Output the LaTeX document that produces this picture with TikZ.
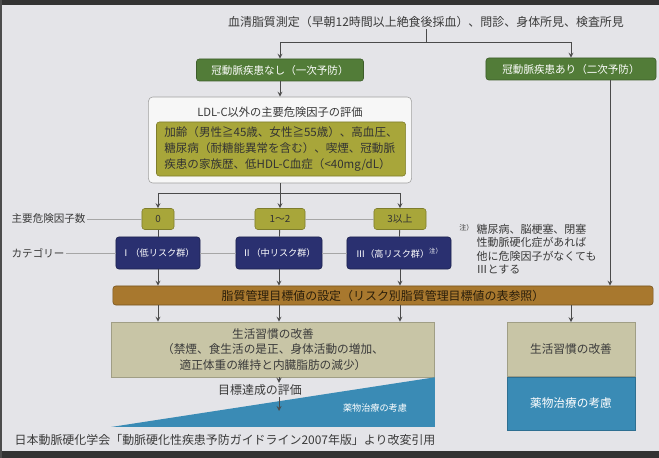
\documentclass[tikz,border=0pt]{standalone}
\usepackage{fontspec}
\setmainfont{Noto Sans CJK JP}
\usepackage{tikz}
\usetikzlibrary{positioning}

\definecolor{slidebg}{HTML}{E4E4E8}
\definecolor{textgray}{HTML}{3A3A3A}
\definecolor{linkgray}{HTML}{4A4A4A}
\definecolor{cadgreen}{HTML}{527C38}
\definecolor{riskolive}{HTML}{A8A63A}
\definecolor{catnavy}{HTML}{2A3070}
\definecolor{goalbrown}{HTML}{A8782E}
\definecolor{lifebeige}{HTML}{C8C5A6}
\definecolor{drugblue}{HTML}{3A8BB5}

\begin{document}
\begin{tikzpicture}[x=0.025cm,y=-0.025cm,>=stealth,
  box/.style={rounded corners=2pt,inner sep=0pt,align=center},
  maintext/.style={font=\fontsize{8.5}{11}\selectfont,text=textgray,inner sep=1pt},
  labeltext/.style={font=\fontsize{7.5}{9}\selectfont,text=textgray,inner sep=1pt},
  greenbox/.style={box,fill=cadgreen,draw=cadgreen!75!black,text=white,minimum height=0.55cm,font=\fontsize{7.5}{9}\selectfont},
  whitebox/.style={box,fill=white!94!gray,draw=gray!75,rounded corners=3pt},
  olivebox/.style={box,fill=riskolive,draw=riskolive!75!black,text=black!80,align=left,font=\fontsize{8.2}{11.3}\selectfont},
  countbox/.style={box,fill=riskolive,draw=riskolive!75!black,text=black!80,minimum height=0.525cm,font=\fontsize{7}{8}\selectfont},
  catbox/.style={box,fill=catnavy,draw=catnavy!70!black,text=white,minimum height=0.8cm,font=\fontsize{6.5}{8}\selectfont},
  brownbar/.style={box,fill=goalbrown,draw=goalbrown!70!black,text=black!75!goalbrown,minimum width=13.5cm,minimum height=0.475cm,font=\fontsize{8.5}{10}\selectfont},
  lifebox/.style={box,rounded corners=0pt,fill=lifebeige,draw=lifebeige!80!black,text=textgray,font=\fontsize{8.3}{11}\selectfont},
  drugbox/.style={box,rounded corners=0pt,fill=drugblue,draw=drugblue!80!black,text=white,font=\fontsize{8.3}{10}\selectfont},
  link/.style={draw=linkgray,line width=0.6pt},
  rowline/.style={draw=gray!70,line width=0.5pt}]

% Slide background and dark frame.
\fill[slidebg] (0,0) rectangle (659,458);
\fill[black!80] (0,0) rectangle (659,5);
\fill[black!80] (0,451) rectangle (659,458);
\fill[black!70] (0,0) rectangle (2,458);

% Screening, then primary / secondary prevention.
\node[maintext] (screening) at (426,22) {血清脂質測定（早朝12時間以上絶食後採血）、問診、身体所見、検査所見};
\coordinate (split) at (426,42);
\node[greenbox,minimum width=4.175cm] (primary) at (280,70) {冠動脈疾患なし（一次予防）};
\node[greenbox,minimum width=4.25cm] (secondary) at (571,69) {冠動脈疾患あり（二次予防）};
\draw[link] (screening.south) -- (split);
\draw[link,->] (split) -| (primary);
\draw[link,->] (split) -| (secondary);

% Evaluation of the main risk factors.
\node[whitebox,minimum width=6.575cm,minimum height=2.15cm] (evalbox) at (280,140) {};
\node[maintext,font=\fontsize{8}{10}\selectfont] (evaltitle) at (280,112) {LDL-C以外の主要危険因子の評価};
\node[olivebox,minimum width=6.225cm,minimum height=1.35cm] (riskfactors) at (281,149)
  {加齢（男性≧45歳、女性≧55歳）、高血圧、\\糖尿病（耐糖能異常を含む）、喫煙、冠動脈\\疾患の家族歴、低HDL-C血症（<40mg/dL）};
\draw[link,->] (primary) -- (evalbox);
\coordinate (fork) at (280,193);
\draw[link] (evalbox) -- (fork);

% Number of risk factors and category.
\node[labeltext,anchor=west] (nrflabel) at (10,219) {主要危険因子数};
\node[labeltext,anchor=west] (catlabel) at (10,253) {カテゴリー};
\node[countbox,minimum width=0.8cm] (nrf0) at (158,219) {0};
\node[countbox,minimum width=1.25cm] (nrf12) at (280,219) {1〜2};
\node[countbox,minimum width=1.3cm] (nrf3) at (400,219) {3以上};
\node[catbox,minimum width=2.1cm] (cat1) at (158,253) {Ⅰ（低リスク群）};
\node[catbox,minimum width=2.15cm] (cat2) at (279,253) {Ⅱ（中リスク群）};
\node[catbox,minimum width=2.6cm] (cat3) at (399,253) {Ⅲ（高リスク群）\raisebox{3pt}{\fontsize{4.5}{5}\selectfont 注）}};
\draw[rowline] (nrflabel) -- (nrf0) (nrf0) -- (nrf12) (nrf12) -- (nrf3);
\draw[rowline] (catlabel) -- (cat1) (cat1) -- (cat2) (cat2) -- (cat3);
\draw[link,->] (fork) -| (nrf0);
\draw[link,->] (fork) -- (nrf12);
\draw[link,->] (fork) -| (nrf3);
\draw[link] (nrf0) -- (cat1);
\draw[link] (nrf12) -- (cat2);
\draw[link] (nrf3) -- (cat3);

% Footnote for category III.
\node[labeltext,anchor=north west,align=left,font=\fontsize{7.8}{9.3}\selectfont] (note) at (475,223)
  {糖尿病、脳梗塞、閉塞\\性動脈硬化症があれば\\他に危険因子がなくても\\Ⅲとする};
\node[labeltext,anchor=north east,font=\fontsize{5}{6}\selectfont] (notemark) at (note.north west) {注）};

% Lipid management goal.
\node[brownbar] (lipidgoal) at (383,295.5) {脂質管理目標値の設定（リスク別脂質管理目標値の表参照）};
\coordinate (rightline) at (610,0);
\draw[link,->] (secondary.south -| rightline) -- (rightline |- lipidgoal.north);
\draw[link,->] (cat1) -- (cat1 |- lipidgoal.north);
\draw[link,->] (cat2) -- (cat2 |- lipidgoal.north);
\draw[link,->] (nrf3 |- cat3.south) -- (nrf3 |- lipidgoal.north);

% Primary prevention: lifestyle, then drugs.
\node[lifebox,minimum width=8.075cm,minimum height=1.375cm] (lifestyle) at (273,349.5)
  {生活習慣の改善\\（禁煙、食生活の是正、身体活動の増加、\\適正体重の維持と内臓脂肪の減少）};
\draw[link,->] (cat1 |- lipidgoal.south) -- (cat1 |- lifestyle.north);
\draw[link,->] (cat2 |- lipidgoal.south) -- (cat2 |- lifestyle.north);
\draw[link,->] (nrf3 |- lipidgoal.south) -- (nrf3 |- lifestyle.north);
\fill[drugblue] (111,427) -- (lifestyle.south east) -- (lifestyle.south east |- 0,427) -- cycle;
\node[maintext,font=\fontsize{6.5}{8}\selectfont,text=white] (drugA) at (375,408) {薬物治療の考慮};
\node[maintext] (evaluation) at (260,390) {目標達成の評価};
\coordinate (evalaxis) at (279,0);
\coordinate (drugtip) at (279,411);
\draw[link,->] (lifestyle.south -| evalaxis) -- (evalaxis |- evaluation.north);
\draw[link,->] (evalaxis |- evaluation.south) -- (drugtip);

% Secondary prevention.
\node[lifebox,minimum width=3.2cm,minimum height=1.35cm] (lifestyleB) at (571,349.5) {生活習慣の改善};
\node[drugbox,minimum width=3.2cm,minimum height=1.325cm,below=0pt of lifestyleB] (drugB) {薬物治療の考慮};
\draw[link,->] (secondary |- lipidgoal.south) -- (lifestyleB);

% Source.
\node[maintext,anchor=west] (source) at (13,440) {日本動脈硬化学会「動脈硬化性疾患予防ガイドライン2007年版」より改変引用};

\end{tikzpicture}
\end{document}
